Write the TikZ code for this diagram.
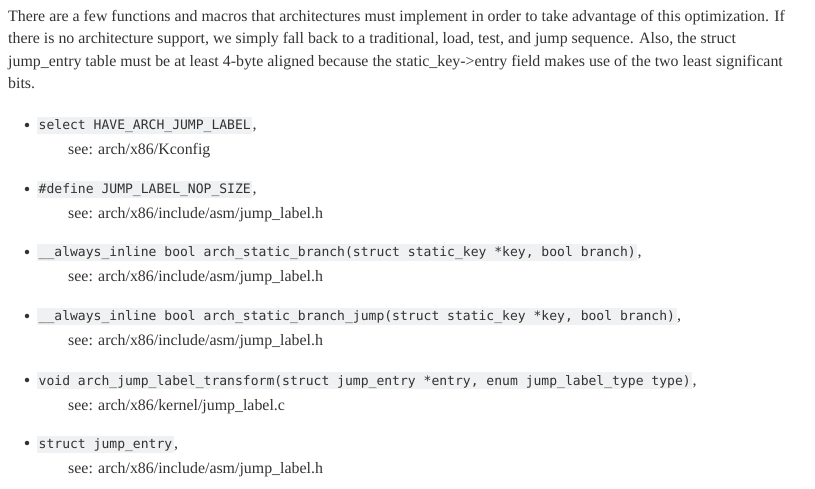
\documentclass[tikz,border=0pt]{standalone}
\usepackage{fontspec}
\setmainfont{Liberation Serif}
\newfontfamily\codefont{DejaVu Sans Mono}
\definecolor{txt}{HTML}{333333}
\definecolor{codebg}{HTML}{F0F1F3}
\begin{document}
\begin{tikzpicture}[x=1pt,y=-1pt,
  para/.style={anchor=base west,inner sep=0pt,font=\fontsize{15.9}{18}\selectfont,text=txt},
  code/.style={anchor=base west,inner xsep=1.5pt,inner ysep=0pt,fill=codebg,text height=12.5pt,text depth=4.5pt,font=\codefont\fontsize{13.05}{15}\selectfont,text=txt},
  bul/.style={circle,fill=txt,inner sep=0pt,minimum size=4.5pt}]
\useasboundingbox (0,0) rectangle (815,489);
\node[para] (p1) at (8,22) {There are a few functions and macros that architectures must implement in order to take advantage of this optimization. If};
\node[para] (p2) at (8,44) {there is no architecture support, we simply fall back to a traditional, load, test, and jump sequence. Also, the struct};
\node[para] (p3) at (8,67) {jump\_entry table must be at least 4-byte aligned because the static\_key->entry field makes use of the two least significant};
\node[para] (p4) at (8,89) {bits.};
\foreach \y/\c/\s [count=\i] in {
  130/{select HAVE\_ARCH\_JUMP\_LABEL}/{arch/x86/Kconfig},
  194/{\#define JUMP\_LABEL\_NOP\_SIZE}/{arch/x86/include/asm/jump\_label.h},
  257/{\_\_always\_inline bool arch\_static\_branch(struct static\_key *key, bool branch)}/{arch/x86/include/asm/jump\_label.h},
  321/{\_\_always\_inline bool arch\_static\_branch\_jump(struct static\_key *key, bool branch)}/{arch/x86/include/asm/jump\_label.h},
  385/{void arch\_jump\_label\_transform(struct jump\_entry *entry, enum jump\_label\_type type)}/{arch/x86/kernel/jump\_label.c},
  448/{struct jump\_entry}/{arch/x86/include/asm/jump\_label.h}} {
  \node[bul] (b\i) at (27,\y-5) {};
  \node[code] (c\i) at (37,\y) {\c};
  \node[para,anchor=base west] (k\i) at (c\i.base east) {,};
  \node[para] (s\i) at (68,\y+25) {see: \s};
}
\end{tikzpicture}
\end{document}
